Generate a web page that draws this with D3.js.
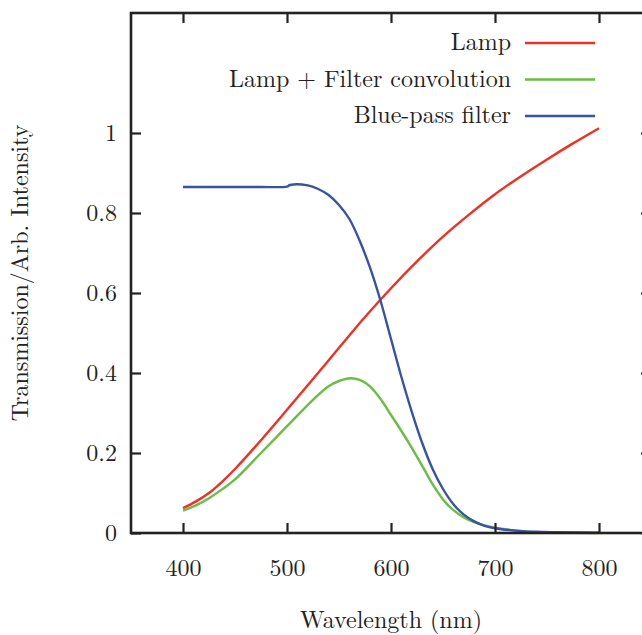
<!DOCTYPE html>
<html>
<head>
<meta charset="utf-8">
<script src="https://cdn.jsdelivr.net/npm/d3@7"></script>
</head>
<body style="margin:0; background:#fff">
<div id="chart"></div>
<script>
// wavelengths (nm) and values
var lampWl = [400, 412.5, 425, 437.5, 450, 475, 500, 525, 550, 575, 600, 625, 650, 675, 700, 725, 750, 775, 800];
var lampVal = [0.062, 0.079, 0.100, 0.128, 0.160, 0.232, 0.308, 0.385, 0.463, 0.540, 0.612, 0.679, 0.741, 0.796, 0.847, 0.892, 0.934, 0.974, 1.012];

var convWl = [400, 412.5, 425, 437.5, 450, 475, 500, 525, 540, 550, 561, 570, 580, 590, 600, 610, 620, 630, 640, 650, 660, 670, 680, 690, 700, 720, 740, 760, 800];
var convVal = [0.056, 0.069, 0.087, 0.109, 0.134, 0.200, 0.267, 0.333, 0.367, 0.380, 0.387, 0.383, 0.366, 0.335, 0.295, 0.255, 0.213, 0.168, 0.122, 0.084, 0.057, 0.039, 0.027, 0.019, 0.013, 0.006, 0.002, 0.001, 0.0];

var filterWl = [400, 425, 450, 475, 500, 503, 520, 530, 540, 550, 560, 570, 580, 590, 600, 610, 620, 630, 640, 650, 660, 670, 680, 690, 700, 720, 740, 760, 800];
var filterVal = [0.865, 0.865, 0.865, 0.865, 0.866, 0.870, 0.869, 0.860, 0.845, 0.820, 0.785, 0.730, 0.662, 0.580, 0.485, 0.390, 0.303, 0.225, 0.160, 0.110, 0.072, 0.046, 0.029, 0.018, 0.012, 0.006, 0.003, 0.002, 0.001];

var xTicks = [400, 500, 600, 700, 800];
var yTicks = [0, 0.2, 0.4, 0.6, 0.8, 1];

var series = [
  {name: "Lamp", wl: lampWl, val: lampVal, color: "#ee3124"},
  {name: "Lamp + Filter convolution", wl: convWl, val: convVal, color: "#6abd45"},
  {name: "Blue-pass filter", wl: filterWl, val: filterVal, color: "#3953a4"}
];

var FONT = "'Latin Modern Roman', 'Liberation Serif', serif";
var FS = "24px";
var W = 642, H = 635;
var margin = {top: 13, right: -9, bottom: 102, left: 131};
var width = W - margin.left - margin.right,
    height = H - margin.top - margin.bottom;

var xScale = d3.scaleLinear().domain([350, 850]).range([0, width]);
var yScale = d3.scaleLinear().domain([0, 1.3]).range([height, 0]);

var svg = d3.select("#chart").append("svg")
    .attr("width", W)
    .attr("height", H)
  .append("g")
    .attr("transform", "translate(" + margin.left + "," + margin.top + ")");

var line = d3.line()
    .x(function(d) { return xScale(d[0]); })
    .y(function(d) { return yScale(d[1]); })
    .curve(d3.curveCatmullRom.alpha(0.5));

// curves
series.forEach(function(s) {
  svg.append("path")
      .datum(s.wl.map(function(w, i) { return [w, s.val[i]]; }))
      .attr("fill", "none")
      .attr("stroke", s.color)
      .attr("stroke-width", 2.4)
      .attr("d", line);
});

// axes: ticks point inward on all four sides
var tickLen = 10;
var axBottom = svg.append("g")
    .attr("transform", "translate(0," + height + ")")
    .call(d3.axisBottom(xScale).tickValues(xTicks).tickSize(-tickLen).tickPadding(26).tickSizeOuter(0));
var axTop = svg.append("g")
    .call(d3.axisTop(xScale).tickValues(xTicks).tickSize(-tickLen).tickFormat("").tickSizeOuter(0));
var axLeft = svg.append("g")
    .call(d3.axisLeft(yScale).tickValues(yTicks).tickSize(-tickLen).tickPadding(14).tickFormat(d3.format("")).tickSizeOuter(0));
var axRight = svg.append("g")
    .attr("transform", "translate(" + width + ",0)")
    .call(d3.axisRight(yScale).tickValues(yTicks).tickSize(-tickLen).tickFormat("").tickSizeOuter(0));

[axBottom, axTop, axLeft, axRight].forEach(function(g) {
  g.select(".domain").remove();
  g.selectAll(".tick line").attr("stroke", "#222").attr("stroke-width", 2.2);
  g.selectAll("text").style("font-family", FONT).style("font-size", FS).attr("fill", "#222");
});

// frame
svg.append("rect")
    .attr("x", 0).attr("y", 0)
    .attr("width", width).attr("height", height)
    .attr("fill", "none")
    .attr("stroke", "#222")
    .attr("stroke-width", 2.6);

// axis titles
svg.append("text")
    .attr("x", xScale(600))
    .attr("y", height + 95)
    .attr("text-anchor", "middle")
    .attr("fill", "#222")
    .style("font-family", FONT)
    .style("font-size", FS)
    .text("Wavelength (nm)");

svg.append("text")
    .attr("transform", "translate(" + (-103) + "," + (yScale(0.65)) + ") rotate(-90)")
    .attr("text-anchor", "middle")
    .attr("fill", "#222")
    .style("font-family", FONT)
    .style("font-size", FS)
    .text("Transmission/Arb. Intensity");

// legend
var legend = svg.append("g").attr("transform", "translate(" + (511 - margin.left) + "," + (43 - margin.top) + ")");
series.forEach(function(s, i) {
  var row = legend.append("g").attr("transform", "translate(0," + (i * 36.5) + ")");
  row.append("text")
      .attr("x", 0).attr("y", 0).attr("dy", "0.3em")
      .attr("text-anchor", "end")
      .attr("fill", "#222")
      .style("font-family", FONT)
      .style("font-size", FS)
      .text(s.name);
  row.append("line")
      .attr("x1", 14).attr("x2", 84)
      .attr("stroke", s.color)
      .attr("stroke-width", 2.4);
});
</script>
</body>
</html>
